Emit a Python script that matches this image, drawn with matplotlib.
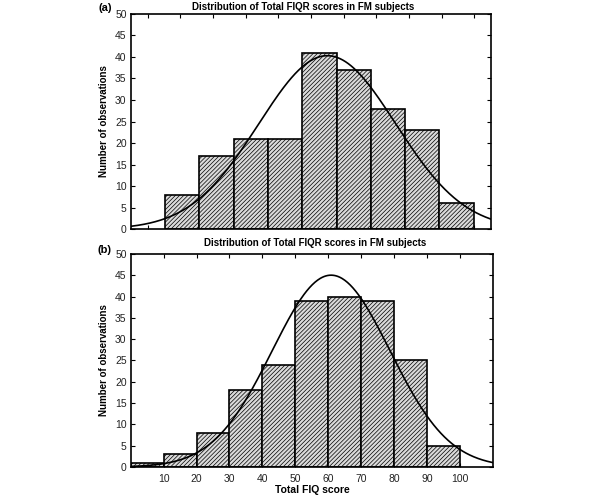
import numpy as np
import matplotlib
matplotlib.use('Agg')
import matplotlib.pyplot as plt

plt.rcParams['font.family'] = ['Liberation Sans', 'DejaVu Sans']
plt.rcParams['hatch.color'] = '#9c9c9c'
plt.rcParams['hatch.linewidth'] = 0.5

# panel (a): Total FIQR, bins of 10 starting at 10
edges_a = [10, 20, 30, 40, 50, 60, 70, 80, 90, 100]
counts_a = [8, 17, 21, 21, 41, 37, 28, 23, 6]
mean_a, sd_a = 57.3, 20.0

# panel (b): Total FIQ, bins of 10 starting at 0
edges_b = [0, 10, 20, 30, 40, 50, 60, 70, 80, 90, 100]
counts_b = [1, 3, 8, 18, 24, 39, 40, 39, 25, 5]
mean_b, sd_b = 60.9, 17.9

title = 'Distribution of Total FIQR scores in FM subjects'
xticks_b = [10, 20, 30, 40, 50, 60, 70, 80, 90, 100]
yticks = [0, 5, 10, 15, 20, 25, 30, 35, 40, 45, 50]


def normal_curve(edges, counts, mean, sd, xlim):
    x = np.linspace(xlim[0], xlim[1], 400)
    width = edges[1] - edges[0]
    n = sum(counts)
    y = n * width / (sd * np.sqrt(2 * np.pi)) * np.exp(-0.5 * ((x - mean) / sd) ** 2)
    return x, y


def draw(ax, edges, counts, mean, sd, xlim):
    ax.bar(edges[:-1], counts, width=np.diff(edges), align='edge',
           facecolor='#dadada', edgecolor='black', linewidth=1.2,
           hatch='////////', zorder=2)
    x, y = normal_curve(edges, counts, mean, sd, xlim)
    ax.plot(x, y, color='black', linewidth=1.2, zorder=3)
    ax.set_xlim(*xlim)
    ax.set_ylim(0, 50)
    ax.set_yticks(yticks)
    ax.tick_params(direction='in', top=True, right=True, length=3,
                   labelsize=7.5, pad=3, width=0.8, labelcolor='#222222')
    for s in ax.spines.values():
        s.set_linewidth(1.2)
    ax.set_ylabel('Number of observations', fontsize=7, fontweight='bold', labelpad=4)


fig = plt.figure(figsize=(6, 4.96), dpi=100)
ax1 = fig.add_axes([0.218, 0.538, 0.600, 0.434])
ax2 = fig.add_axes([0.218, 0.0585, 0.603, 0.4295])

draw(ax1, edges_a, counts_a, mean_a, sd_a, (0, 105))
ax1.set_xticks(np.arange(4.9, 105, 9.53))
ax1.set_xticklabels([])
ax1.set_title(title, fontsize=7, fontweight='bold', pad=3, x=0.48)

draw(ax2, edges_b, counts_b, mean_b, sd_b, (0, 110))
ax2.set_xticks(xticks_b)
ax2.tick_params(axis='x', pad=5)
ax2.set_title(title, fontsize=7, fontweight='bold', pad=6, x=0.51)
fig.text(0.52, 0.012, 'Total FIQ score', fontsize=7.5, fontweight='bold',
         ha='center', va='center')

fig.text(0.175, 0.983, '(a)', fontsize=8, fontweight='bold', ha='center', va='center')
fig.text(0.175, 0.496, '(b)', fontsize=8, fontweight='bold', ha='center', va='center')

fig.savefig('out.png', dpi=100)
